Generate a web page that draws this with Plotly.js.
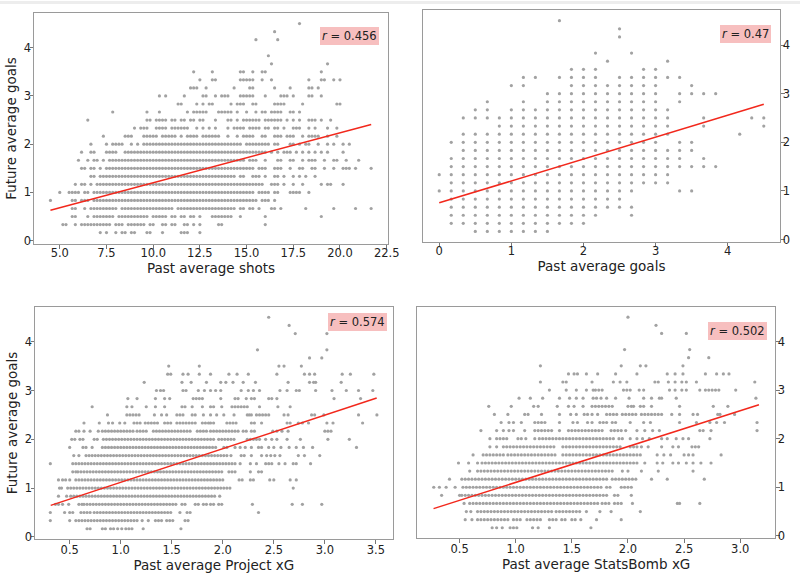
<!DOCTYPE html>
<html><head><meta charset="utf-8">
<script src="https://cdn.plot.ly/plotly-3.0.1.min.js"></script>
<style>html,body{margin:0;padding:0;background:#fff;}#chart{width:800px;height:577px;}</style>
</head><body><div id="chart"></div>
<script>
// Observed dots, row by row. Row key k -> future average goals = k/6.
// Each row lists the occupied x positions read off the picture:
// single values, or "a-b" for an unbroken run of dots at the data's own resolution.
// Shots & goals panels: x in units of 1/6 (run step 1). xG panels: x in hundredths (run step 3).
const shotsRows = [
 [1,"43,45,48,50-51,53-54,58-59,63,69-71,75"],
 [2,"31-32,35,37-46,48-50,52-57,59-60,63-64,66-67,70-71,73,75,81-82,96"],
 [3,"34-35,39,41-47,49-58,60-64,66-67,69-70,72-73,75,79-85,88,96,114"],
 [4,"34-35,38,40-48,50-66,68-86,88-89,91-92,94,98-99,101,109,118,125,130"],
 [5,"27,34-35,37-39,41-93,95-97,99"],
 [6,"30,33-36,38-39,41-92,94-97,99-100,104-107,110"],
 [7,"35,37-38,40,42-95,98-100,102,105,108,114,116-117,121"],
 [8,"40-41,43-86,88-89,92-94,96,99-100,102,105,107,109,112"],
 [9,"37-38,40-41,43,45-92,94-96,99-101,104,107-108,111-112,115,118,121-123,125,130"],
 [10,"36,39,41-42,44,46-89,91-93,96,100-101,104-105,108,110-112,115,118-119,122,126"],
 [11,"37,40-41,45-48,51-96,98,100,102-104,106,108,110,112,114,116,121"],
 [12,"40,45,47-50,53,55,57-88,90-97,99-100,104-105,107,109-110,113,116,118,121,123"],
 [13,"44,51-53,57-61,63-67,69,71-74,76-81,84,87,89-92,95-96,99-101,103-105,108,110-113,116,119"],
 [14,"54,56-58,61-64,66-71,74,76,78,80,84,86-89,91-94,96-97,99-100,102,105-107,110,112,116,119"],
 [15,"39,58-59,61-64,66-67,69-70,72-73,75-76,80,84-85,87,89-94,96-101,103,105,107,110-112,114,117"],
 [16,"47,58,62,71,73-77,81-85,87,90,93,95-96,98-101,104-105,107"],
 [17,"68-69,74,76,78-79,85,87-89,92-93,99-102,108,119-120"],
 [18,"62,64,70,76-77,80,82-84,88-92,96,101-103,105,110-111,114"],
 [19,"72-74,77,86,91-92,99,104,110-111,113"],
 [20,"75,79-80,88-92,95,98,110,114-115,118,120"],
 [21,"73,79,88-89,92,95-96,114"],
 [22,"98,116"],
 [23,"97"],
 [25,"93,100"],
 [26,"99"],
 [27,"107"]
];
const goalsRows = [
 [1,"3-9"],[2,"1-12"],[3,"1-13,16"],[4,"1-16"],[5,"1-15"],
 [6,"0-16,20-21"],[7,"1-19"],[8,"0-19"],[9,"1-23"],[10,"1-20,22"],
 [11,"2-21"],[12,"1-18,20-21"],[13,"2-19,25"],[14,"5-19,22,27"],[15,"2-19,22,26-27"],
 [16,"3-4,6-19"],[17,"4,7,9-18,20"],[18,"9-18,20-23"],[19,"6-7,11-18,21"],[20,"7-8,10-13,15-20"],
 [21,"11-13,17-18"],[22,"14,19"],[23,"13,16"],[25,"15"],[26,"15"],[27,"10"]
];
const projRows = [
 [1,"67,70,82,85,90,93,97,101,105,108,111,122,159"],
 [2,"31,50,56-116,121,127,134-141,145-152,163-168"],
 [3,"31,45,50-54,61,64-70,74-149,158,165-168,235"],
 [4,"36-40,43,49,59-62,64-155,160-165,173-176,181-185,188-191,196-199,229,268,278,297"],
 [5,"39,47,51,54-193,197"],
 [6,"40,42,48,51-209,269"],
 [7,"39,43-46,50,56-201,216-220,227,230,246,250,266,272"],
 [8,"53-56,58-201,206-212,227,235-240"],
 [9,"31,53-56,59-212,217,227,233,242-250,255,261,269,272,286"],
 [10,"54,59-61,66-204,208,218-223,228-230,238,243,247,251,256,274,280,295"],
 [11,"50,63,66,72,82-194,201-206,212,217,222,228,235,238,245,250,257,265,272,279,288,331"],
 [12,"52,55,60,63,74-77,83-193,196-211,224-237,242,248,253,263,276,303,324"],
 [13,"56,59,64,70,78,82-97,100-112,116-127,132-170,175-186,188-206,209-216,220-225,228-232,249,253,258,264,300-307"],
 [14,"64,79,88,92,99,104,113-119,124-136,143-150,155-175,180-186,188,191,204-214,228,231,238,263,266,274,278,284,302,308,337"],
 [15,"87,106-120,133,140,145,155-163,170-175,181,188,194,201,211,224,226,228,233-247,260,264,287,290,299,333,351"],
 [16,"72,106,111,125,134,143,160-165,170,180,188,191,199,209-225,236,254,266"],
 [17,"107,116,134,143,148,171-181,198,212,215,223,228,231,245,248,253,309,335"],
 [18,"135,139,142,161-166,176,182,188,193,198,218,225,230,236,256,263,272,275,291,307,321,333,347"],
 [19,"123,160,169,184,198,203,210,220,232,264,285,289,291,316"],
 [20,"146,149,161,166,177,188,206,214,225,253,280,285,290,317,325,348"],
 [21,"147,177,255,260,277"],
 [22,"285,297"],[23,"234,302"],[25,"271,302"],[26,"265"],[27,"245"]
];
const sbRows = [
 [1,"79,83,88,95,98,101,115,120,130,167"],
 [2,"55,61,66-95,98-106,110-124,130-136,141-145,150,153,158,172,194"],
 [3,"56,60,66-133,136-146,148-158,163,175,185,211"],
 [4,"54,59-175,177-184,188-196,204,244,246,264"],
 [5,"34,50,52-181,188-193,203"],
 [6,"27,32,38,46,53-178,181-185,194-205"],
 [7,"41,52-181,186-209,221,235,268"],
 [8,"59,66-188,195,200,212,227,258"],
 [9,"49,58,66,70-209,215,226,231,240,245,252,258,265,274"],
 [10,"62,71-90,93-136,142-213,226,232,238,250,254,258,283"],
 [11,"77,83,89-136,142-194,202-208,212,218,230,240,245,257-264"],
 [12,"77,83-93,102,105,109,117,121-188,192-197,202,208,213,219,230,235,243,249,254,273"],
 [13,"69,83,89,94,98,108,117-133,139,147,150-179,185-196,198,208,215,222,228,264-268,274,315"],
 [14,"87,94,98,105,117-126,139,151,155,164,168-170,175-181,186-190,202,214,220,246,261,273,279,286,315"],
 [15,"81,93,108,111,123,139,149,154,161,164,168,173,181-190,195-209,212-230,239,246,258,262,280,282,295"],
 [16,"76,96,116,120,137,147,152,160,168-188,200,203,205,211,214,221,246,276,289"],
 [17,"103,113,124,139,148,154,160,169,172,176,181,189,201,214,221,228,230,243,314"],
 [18,"130,145,154,163,169,171-179,196-203,210,214,237,242,248,252,264,269-282,296"],
 [19,"122,142,145,168,187,193,199,224,227,236,242,248,252,261,313"],
 [20,"147,152,155,163,173,189,208,235,242,249,269,279,285,290"],
 [21,"122,194,211,216,249"],
 [22,"254,272"],[23,"197,255"],[25,"230,252"],[26,"225"],[27,"200"]
];
// Fitted lines (end points)
const shotsLineX = [4.5, 21.67], shotsLineY = [0.63, 2.41];
const goalsLineX = [0, 4.5],     goalsLineY = [0.755, 2.78];
const projLineX  = [0.314, 3.508], projLineY = [0.645, 2.845];
const sbLineX    = [0.268, 3.167], sbLineY   = [0.56, 2.70];
const rValues = ["0.456","0.47","0.574","0.502"];
const xTitles = ["Past average shots","Past average goals","Past average Project xG","Past average StatsBomb xG"];
const yTitle = "Future average goals";
const shotsTicks = [5,7.5,10,12.5,15,17.5,20,22.5];
const goalsTicks = [0,1,2,3,4];
const projTicks = [0.5,1,1.5,2,2.5,3,3.5];
const sbTicks = [0.5,1,1.5,2,2.5,3];
const yTicks = [0,1,2,3,4];

function decode(spec, step){
  const out=[];
  spec.split(',').forEach(tok=>{
    if(tok.indexOf('-')>0){const p=tok.split('-').map(Number);for(let v=p[0];v<=p[1];v+=step)out.push(v);}
    else out.push(Number(tok));
  });
  return out;
}
function dots(rows, unit, step, n){
  const xs=[], ys=[];
  rows.forEach(r=>{decode(r[1],step).forEach(v=>{xs.push(v*unit);ys.push(r[0]/6);});});
  return {type:'scatter',mode:'markers',x:xs,y:ys,xaxis:'x'+n,yaxis:'y'+n,
    marker:{size:3.2,color:'#a2a2a2',line:{width:0}},hoverinfo:'skip',showlegend:false};
}
function fit(x,y,n){
  return {type:'scatter',mode:'lines',x:x,y:y,xaxis:'x'+n,yaxis:'y'+n,
    line:{color:'#f2281c',width:1.5},hoverinfo:'skip',showlegend:false};
}
const data=[
  dots(shotsRows,1/6,1,''), fit(shotsLineX,shotsLineY,''),
  dots(goalsRows,1/6,1,'2'), fit(goalsLineX,goalsLineY,'2'),
  dots(projRows,0.01,3,'3'), fit(projLineX,projLineY,'3'),
  dots(sbRows,0.01,3,'4'), fit(sbLineX,sbLineY,'4')
];
const font='DejaVu Sans, sans-serif';
function xa(dom,rng,ticks,fmt,title,anchor,shift){
  return {domain:dom,range:rng,anchor:anchor,tickvals:ticks,ticktext:ticks.map(t=>t.toFixed(fmt)),
    showline:true,mirror:true,linecolor:'#9a9a9a',linewidth:1,ticks:'outside',ticklen:3.5,tickcolor:'#777',
    ticklabelstandoff:shift,
    showgrid:false,zeroline:false,tickfont:{size:11.5,color:'#222',family:font},
    title:{text:title,font:{size:13.5,color:'#222',family:font},standoff:1}};
}
function ya(dom,rng,side,title,anchor){
  return {domain:dom,range:rng,anchor:anchor,side:side,tickvals:yTicks,ticktext:yTicks.map(String),
    showline:true,mirror:true,linecolor:'#9a9a9a',linewidth:1,ticks:'outside',ticklen:3.5,tickcolor:'#777',
    ticklabelstandoff:-4,
    showgrid:false,zeroline:false,tickfont:{size:11.5,color:'#222',family:font},
    title:{text:title,font:{size:13.5,color:'#222',family:font},standoff:4}};
}
function ann(n,x,y,r){
  return {xref:(n?'x'+n:'x')+' domain',yref:(n?'y'+n:'y')+' domain',x:x,y:y,xanchor:'right',yanchor:'top',
    text:'<i>r</i> = '+r,showarrow:false,font:{size:11.5,color:'#222',family:font},
    bgcolor:'rgba(240,128,128,0.5)',borderwidth:0,borderpad:2};
}
const layout={
  width:800,height:577,margin:{l:0,r:0,t:0,b:0},paper_bgcolor:'#fff',plot_bgcolor:'#fff',
  font:{family:font},
  xaxis: xa([0.0425,0.485],[3.62,22.57],shotsTicks,1,xTitles[0],'y',-5),
  yaxis: ya([0.5771,0.9775],[-0.07,4.72],'left',yTitle,'x'),
  xaxis2:xa([0.52875,0.975],[-0.225,4.725],goalsTicks,0,xTitles[1],'y2',-5),
  yaxis2:ya([0.5806,0.9827],[-0.05,4.72],'right','','x2'),
  xaxis3:xa([0.04375,0.4909],[0.16,3.665],projTicks,1,xTitles[2],'y3',-4),
  yaxis3:ya([0.0653,0.4685],[-0.05,4.717],'left',yTitle,'x3'),
  xaxis4:xa([0.5216,0.96875],[0.123,3.31],sbTicks,1,xTitles[3],'y4',-4),
  yaxis4:ya([0.0671,0.4685],[-0.05,4.717],'right','','x4'),
  annotations:[ann('',0.975,0.94,rValues[0]),ann('2',0.975,0.935,rValues[1]),
               ann('3',0.984,0.974,rValues[2]),ann('4',0.978,0.934,rValues[3])],
  shapes:[{type:'rect',xref:'paper',yref:'paper',x0:0,x1:1,y0:1-4/577,y1:1-1/577,fillcolor:'#ededed',line:{width:0}}]
};
Plotly.newPlot('chart',data,layout,{staticPlot:true,displayModeBar:false});
</script></body></html>
